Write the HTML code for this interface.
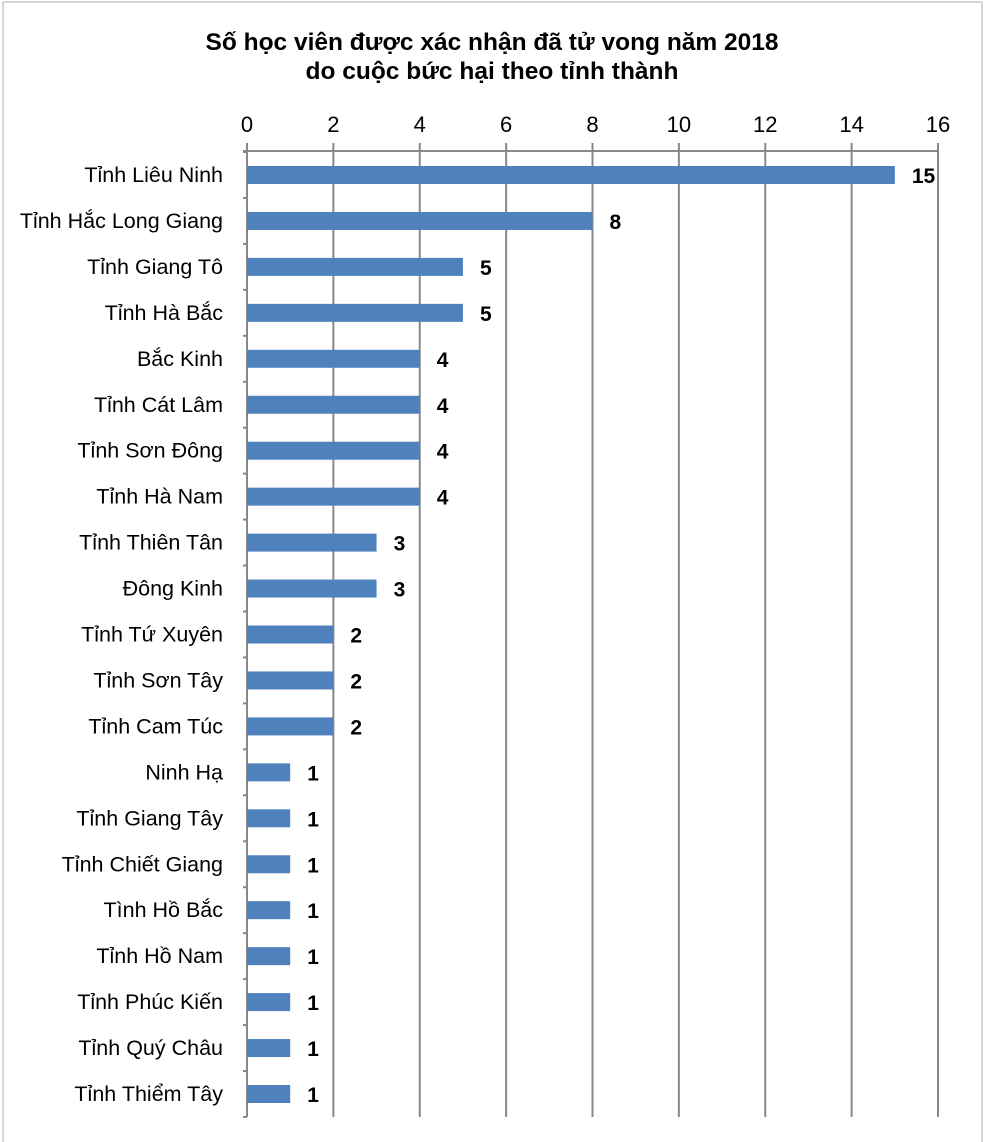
<!DOCTYPE html>
<html><head><meta charset="utf-8"><style>body{margin:0;background:#fff}svg{display:block}</style></head>
<body>
<svg width="988" height="1142" viewBox="0 0 988 1142" xmlns="http://www.w3.org/2000/svg" font-family="Liberation Sans, DejaVu Sans, sans-serif">
<rect width="988" height="1142" fill="#fff"/>
<line x1="3" y1="2" x2="982" y2="2" stroke="#c8c8c8" stroke-width="1.5"/>
<line x1="3" y1="2" x2="3" y2="1142" stroke="#c8c8c8" stroke-width="1.5"/>
<line x1="982" y1="2" x2="982" y2="1142" stroke="#c8c8c8" stroke-width="1.5"/>
<text x="492" y="50" text-anchor="middle" font-size="24.5" font-weight="bold">Số học viên được xác nhận đã tử vong năm 2018</text>
<text x="492" y="79" text-anchor="middle" font-size="24.5" font-weight="bold">do cuộc bức hại theo tỉnh thành</text>
<g id="grid" stroke="#888" stroke-width="2"></g>
<g id="ticks" font-size="22" text-anchor="middle"></g>
<g id="bars"></g>
<script>
var ns="http://www.w3.org/2000/svg";
function el(p,t,a,txt){var e=document.createElementNS(ns,t);for(var k in a)e.setAttribute(k,a[k]);if(txt!=null)e.textContent=txt;p.appendChild(e);return e;}
var g=document.getElementById('grid'),tk=document.getElementById('ticks'),b=document.getElementById('bars');
var x0=247,u=691/16;
for(var i=0;i<=16;i+=2){var x=x0+i*u;el(g,'line',{x1:x,y1:143,x2:x,y2:1117});el(tk,'text',{x:x,y:132},String(i));}
el(g,'line',{x1:243,y1:151,x2:938,y2:151});
var d=[["Tỉnh Liêu Ninh",15],["Tỉnh Hắc Long Giang",8],["Tỉnh Giang Tô",5],["Tỉnh Hà Bắc",5],["Bắc Kinh",4],["Tỉnh Cát Lâm",4],["Tỉnh Sơn Đông",4],["Tỉnh Hà Nam",4],["Tỉnh Thiên Tân",3],["Đông Kinh",3],["Tỉnh Tứ Xuyên",2],["Tỉnh Sơn Tây",2],["Tỉnh Cam Túc",2],["Ninh Hạ",1],["Tỉnh Giang Tây",1],["Tỉnh Chiết Giang",1],["Tình Hồ Bắc",1],["Tỉnh Hồ Nam",1],["Tỉnh Phúc Kiến",1],["Tỉnh Quý Châu",1],["Tỉnh Thiểm Tây",1]];
var sp=(1094-175)/20;
for(var j=0;j<=21;j++){var y=152+j*sp;el(g,'line',{x1:243,y1:y,x2:247,y2:y});}
d.forEach(function(r,j){var cy=175+j*sp;var w=r[1]*u;
el(b,'rect',{x:x0,y:cy-9,width:w,height:18,fill:'#4f81bd'});
el(b,'text',{x:223,y:cy+7,'text-anchor':'end','font-size':21.5},r[0]);
el(b,'text',{x:x0+w+17,y:cy+8,'font-size':21,'font-weight':'bold'},String(r[1]));});
</script>
</svg>
</body></html>
